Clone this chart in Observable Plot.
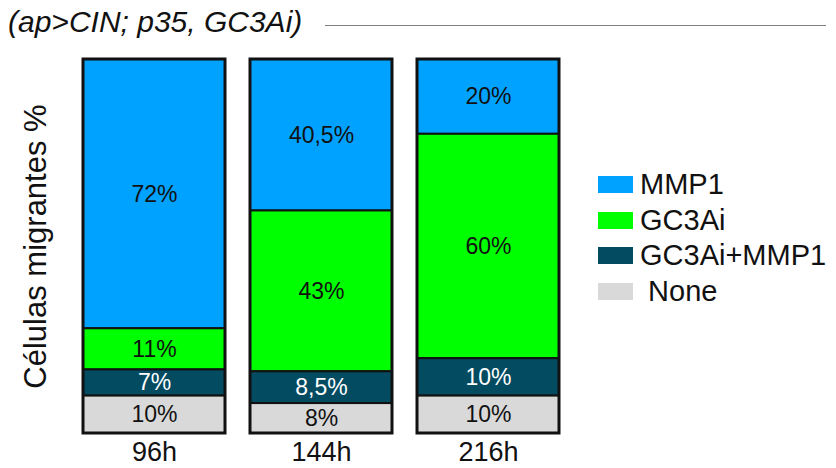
<!DOCTYPE html>
<html>
<head>
<meta charset="utf-8">
<script src="https://cdn.jsdelivr.net/npm/d3@7"></script>
<script src="https://cdn.jsdelivr.net/npm/@observablehq/plot@0.6"></script>
<style>
  body { margin: 0; background: white; }
  #wrap { position: relative; width: 836px; height: 468px; font-family: "Liberation Sans", Arial, sans-serif; }
  #chart { position: absolute; left: 0; top: 0; }
  #title { position: absolute; left: 8px; top: 7px; font-style: italic; font-size: 30px; line-height: 30px; color: #111; white-space: nowrap; }
  #rule { position: absolute; left: 325px; top: 25px; width: 501px; height: 0; border-top: 1.5px solid #808080; }
  #legend { position: absolute; left: 598px; top: 167px; }
  .row { display: flex; align-items: center; height: 35.5px; font-size: 29px; line-height: 35px; color: #111; white-space: pre; }
  .sw { width: 35px; height: 17px; margin-right: 7px; flex: none; }
</style>
</head>
<body>
<div id="wrap">
  <div id="chart"></div>
  <div id="title"></div>
  <div id="rule"></div>
  <div id="legend"></div>
</div>
<script>
const titleText = "(ap>CIN; p35, GC3Ai)";
const yLabel = "Células migrantes %";
const times = ["96h", "144h", "216h"];
const categories = ["MMP1", "GC3Ai", "GC3Ai+MMP1", "None"];
const colors = ["#00A2FF", "#00FF00", "#034B61", "#D9D9D9"];
const mmp1 = [72, 40.5, 20];
const gc3ai = [11, 43, 60];
const both = [7, 8.5, 10];
const none = [10, 8, 10];
const legendLabels = ["MMP1", "GC3Ai", "GC3Ai+MMP1", " None"];

const series = [mmp1, gc3ai, both, none];
const data = [];
times.forEach((t, i) => {
  categories.forEach((c, j) => {
    const v = series[j][i];
    data.push({time: t, category: c, value: v, label: String(v).replace(".", ",") + "%"});
  });
});
const order = ["None", "GC3Ai+MMP1", "GC3Ai", "MMP1"];
const font = "'Liberation Sans', Arial, sans-serif";

const chart = Plot.plot({
  width: 836,
  height: 468,
  marginTop: 59,
  marginBottom: 35,
  marginLeft: 82,
  marginRight: 277,
  style: {fontFamily: font, background: "white", color: "#111"},
  x: {domain: times, paddingInner: 0.15, paddingOuter: 0, axis: null},
  y: {domain: [0, 100], axis: null},
  color: {domain: categories, range: colors},
  marks: [
    Plot.barY(data, Plot.stackY({x: "time", y: "value", z: "category", order, fill: "category", stroke: "#111", strokeWidth: 2, inset: 0})),
    Plot.barY(data, Plot.groupX({y: "sum"}, {x: "time", y: "value", fill: "none", stroke: "#111", strokeWidth: 3, inset: 0})),
    Plot.text(data, Plot.stackY({x: "time", y: "value", z: "category", order, text: d => d.category === "GC3Ai+MMP1" ? "" : d.label, fill: "#111", fontSize: 23})),
    Plot.text(data, Plot.stackY({x: "time", y: "value", z: "category", order, text: d => d.category === "GC3Ai+MMP1" ? d.label : "", fill: "white", fontSize: 23})),
    Plot.axisX({domain: times, tickSize: 0, tickPadding: 8, fontSize: 27, label: null}),
    Plot.text([yLabel], {frameAnchor: "left", textAnchor: "middle", dx: -46, rotate: -90, fontSize: 31, fill: "#111"})
  ]
});
document.getElementById("chart").appendChild(chart);
document.getElementById("title").textContent = titleText;

const legend = document.getElementById("legend");
categories.forEach((c, i) => {
  const row = document.createElement("div");
  row.className = "row";
  const sw = document.createElement("div");
  sw.className = "sw";
  sw.style.background = colors[i];
  const label = document.createElement("span");
  label.textContent = legendLabels[i];
  row.appendChild(sw);
  row.appendChild(label);
  legend.appendChild(row);
});
</script>
</body>
</html>
